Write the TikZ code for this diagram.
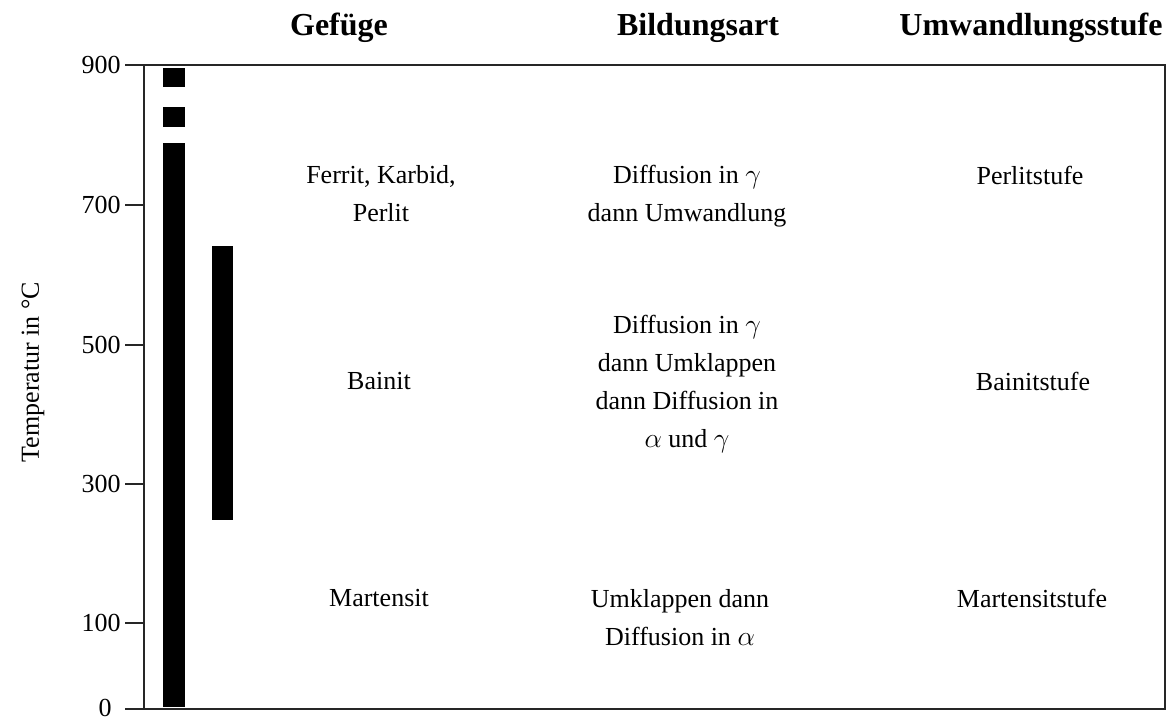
\documentclass[tikz,border=0pt]{standalone}
\usepackage{fontspec}
\setmainfont{Liberation Serif}

\tikzset{
  frame/.style={line width=1.2pt, draw=black!85},
  bar/.style={fill=black},
  body/.style={inner sep=0pt, align=center, font=\fontsize{19.5pt}{28.5pt}\selectfont},
  head/.style={inner sep=0pt, font=\bfseries\fontsize{24pt}{28pt}\selectfont},
  ticklbl/.style={inner sep=0pt, anchor=east, font=\fontsize{19.5pt}{24pt}\selectfont}
}

\begin{document}
\begin{tikzpicture}[x=0.75pt, y=-0.75pt]
\useasboundingbox (0,0) rectangle (1167,722);

% frame and temperature axis
\draw[frame] (125,65) -- (1165,65) -- (1165,709) -- (125,709);
\draw[frame] (144,65) -- (144,709);
\foreach \yy/\tt in {205/700, 345/500, 484/300, 623/100}{
  \draw[frame] (125,\yy) -- (144,\yy);
  \node[ticklbl] (lbl\tt) at (121,\yy) {\tt};
}
\node[ticklbl] (lbl900) at (121,65) {900};
\node[ticklbl, anchor=center] (lbl0) at (105,708) {0};
\node[body, rotate=90] (ylabel) at (33,372) {Temperatur in °C};

% temperature ranges
\fill[bar] (163,68) rectangle (185,87);
\fill[bar] (163,107) rectangle (185,127);
\fill[bar] (163,143) rectangle (185,707);
\fill[bar] (212,246) rectangle (233,520);

% column headings
\node[head] (h1) at (339,28) {Gefüge};
\node[head] (h2) at (698,28) {Bildungsart};
\node[head] (h3) at (1031,28) {Umwandlungsstufe};

% pearlite stage
\node[body] (g1) at (381,194) {Ferrit, Karbid,\\Perlit};
\node[body] (b1) at (687,196) {Diffusion in $\gamma$\\dann Umwandlung};
\node[body] (u1) at (1030,175) {Perlitstufe};

% bainite stage
\node[body] (g2) at (379,381) {Bainit};
\node[body] (b2) at (687,384) {Diffusion in $\gamma$\\dann Umklappen\\dann Diffusion in\\$\alpha$ und $\gamma$};
\node[body] (u2) at (1033,381) {Bainitstufe};

% martensite stage
\node[body] (g3) at (379,598) {Martensit};
\node[body] (b3) at (680,618) {Umklappen dann\\Diffusion in $\alpha$};
\node[body] (u3) at (1032,598) {Martensitstufe};
\end{tikzpicture}
\end{document}
